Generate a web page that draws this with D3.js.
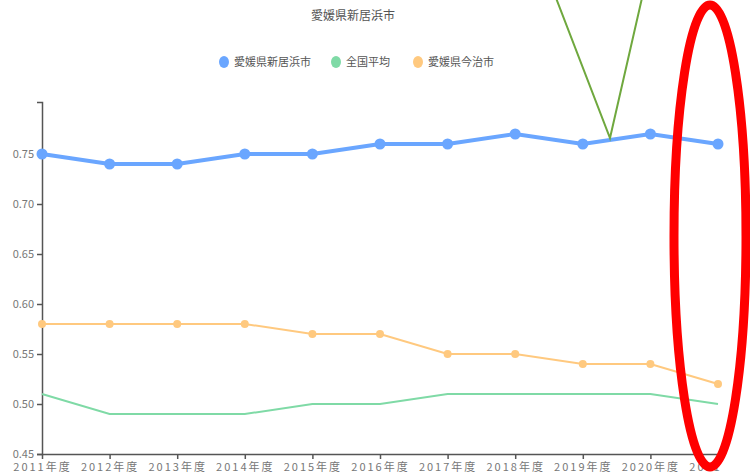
<!DOCTYPE html>
<html>
<head>
<meta charset="utf-8">
<script src="https://cdn.jsdelivr.net/npm/d3@7"></script>
<style>
  body { margin: 0; background: #fff; }
  svg { font-family: "Noto Sans CJK JP", sans-serif; }
</style>
</head>
<body>
<div id="chart"></div>
<script>
const years = ["2011年度", "2012年度", "2013年度", "2014年度", "2015年度", "2016年度",
  "2017年度", "2018年度", "2019年度", "2020年度", "2021年度"];
const niihama = [0.75, 0.74, 0.74, 0.75, 0.75, 0.76, 0.76, 0.77, 0.76, 0.77, 0.76];
const national = [0.51, 0.49, 0.49, 0.49, 0.50, 0.50, 0.51, 0.51, 0.51, 0.51, 0.50];
const imabari = [0.58, 0.58, 0.58, 0.58, 0.57, 0.57, 0.55, 0.55, 0.54, 0.54, 0.52];
const yTicks = [0.45, 0.50, 0.55, 0.60, 0.65, 0.70, 0.75];

const series = [
  { name: "愛媛県新居浜市", values: niihama, color: "#6aa6ff", width: 4, r: 5.5 },
  { name: "全国平均", values: national, color: "#7fdaa6", width: 2, r: 0 },
  { name: "愛媛県今治市", values: imabari, color: "#ffc97f", width: 2, r: 4 }
];

const width = 750, height = 476;
const svg = d3.select("#chart").append("svg")
  .attr("width", width)
  .attr("height", height);

// the right edge of the last x label is cut off in the original
svg.append("defs").append("clipPath")
  .attr("id", "xclip")
  .append("rect")
  .attr("x", -10).attr("y", -10)
  .attr("width", 730).attr("height", 40);

const x = d3.scalePoint().domain(years).range([42, 718]);
const y = d3.scaleLinear().domain([0.45, 0.802]).range([454, 102]);

// title
svg.append("text")
  .attr("x", 353).attr("y", 20)
  .attr("text-anchor", "middle")
  .attr("font-size", 12)
  .attr("fill", "#555")
  .text("愛媛県新居浜市");

// legend
const legendX = [224, 336, 418];
const legend = svg.append("g")
  .selectAll("g")
  .data(series)
  .join("g")
  .attr("transform", (d, i) => `translate(${legendX[i]},62)`);
legend.append("ellipse").attr("rx", 5).attr("ry", 6).attr("fill", d => d.color);
legend.append("text")
  .attr("x", 10).attr("dy", 4)
  .attr("font-size", 11)
  .attr("fill", "#555")
  .text(d => d.name);

// axes
const yAxis = svg.append("g")
  .attr("transform", "translate(42,0)")
  .call(d3.axisLeft(y).tickValues(yTicks).tickFormat(d3.format(".2f")).tickSize(5).tickSizeOuter(5));
const xAxis = svg.append("g")
  .attr("transform", "translate(0,454)")
  .attr("clip-path", "url(#xclip)")
  .call(d3.axisBottom(x).tickSize(5).tickSizeOuter(0));
[yAxis, xAxis].forEach(a => {
  a.select(".domain").attr("stroke", "#555").attr("stroke-width", 1.5);
  a.selectAll(".tick line").attr("stroke", "#555").attr("stroke-width", 1.5);
  a.selectAll("text").attr("fill", "#777").attr("font-size", 11)
    .attr("font-family", "\"Noto Sans CJK JP\", sans-serif");
});
yAxis.selectAll("text").attr("x", -8);
xAxis.selectAll("text").attr("y", 9).attr("dy", "0.71em").style("letter-spacing", "2px");

// lines
const line = d3.line().x((d, i) => x(years[i])).y(d => y(d));
svg.append("g")
  .selectAll("path")
  .data(series)
  .join("path")
  .attr("fill", "none")
  .attr("stroke", d => d.color)
  .attr("stroke-width", d => d.width)
  .attr("d", d => line(d.values));

series.filter(s => s.r > 0).forEach(s => {
  svg.append("g")
    .selectAll("circle")
    .data(s.values)
    .join("circle")
    .attr("cx", (d, i) => x(years[i]))
    .attr("cy", d => y(d))
    .attr("r", s.r)
    .attr("fill", s.color);
});

// annotations drawn on top of the chart
svg.append("polyline")
  .attr("points", "556,-2 610,138 642,-2")
  .attr("fill", "none")
  .attr("stroke", "#6fa83e")
  .attr("stroke-width", 2);
svg.append("ellipse")
  .attr("cx", 710).attr("cy", 236)
  .attr("rx", 36).attr("ry", 231)
  .attr("fill", "none")
  .attr("stroke", "#ff0000")
  .attr("stroke-width", 9);
</script>
</body>
</html>
